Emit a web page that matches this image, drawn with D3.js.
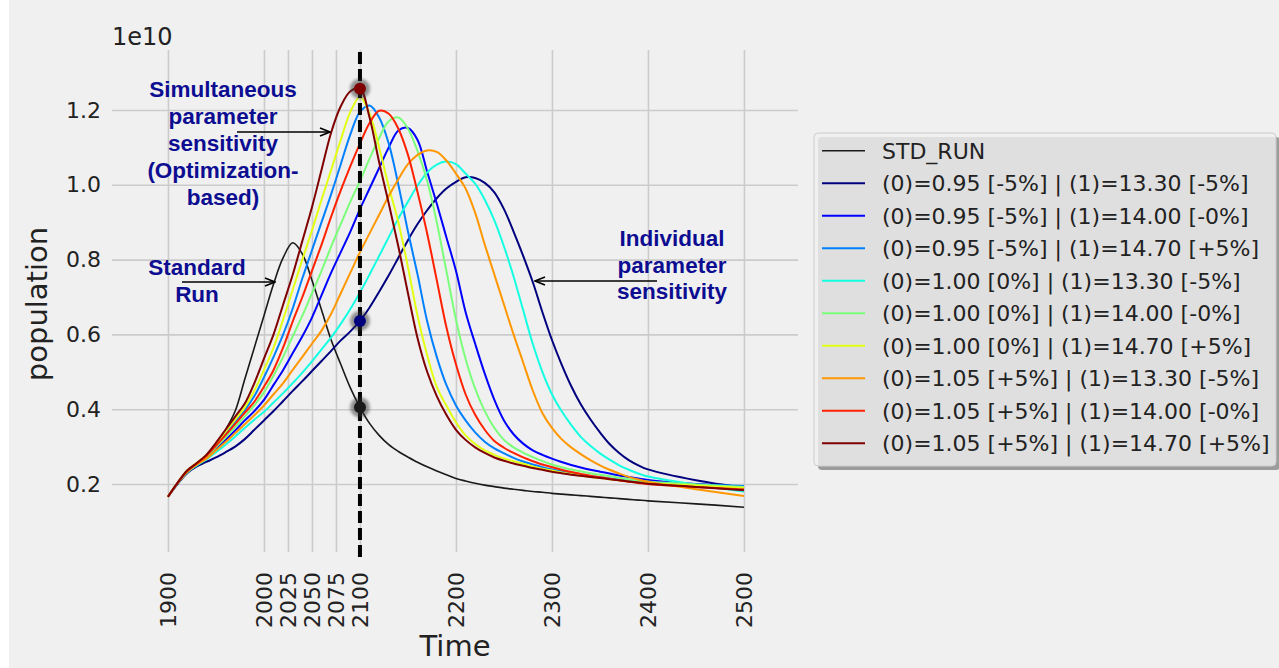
<!DOCTYPE html>
<html><head><meta charset="utf-8">
<script src="https://cdn.jsdelivr.net/npm/d3@7"></script>
<style>body{margin:0;background:#ffffff}svg{display:block}</style>
</head><body><svg id="c" width="1279" height="668"></svg>
<script>
// ---------------- data ----------------
const years = [1900,1910,1920,1930,1940,1950,1960,1970,1980,1990,
  2000,2010,2020,2030,2040,2050,2060,2070,2080,2090,
  2100,2110,2120,2130,2140,2150,2160,2170,2180,2190,
  2200,2210,2220,2230,2240,2250,2260,2270,2280,2290,
  2300,2310,2320,2330,2340,2350,2360,2370,2380,2390,
  2400,2450,2500];
const xTickValues = [1900,2000,2025,2050,2075,2100,2200,2300,2400,2500];
const yTickValues = [0.2,0.4,0.6,0.8,1.0,1.2];
const markYear = 2100;

const stdRun = [.166,.203,.236,.255,.276,.306,.345,.395,.48,.565,
  .65,.735,.805,.845,.815,.745,.665,.585,.52,.457,
  .405,.362,.33,.305,.287,.272,.258,.246,.235,.225,
  .215,.208,.202,.197,.193,.189,.186,.183,.18,.178,
  .175,.173,.171,.169,.167,.165,.163,.161,.159,.157,
  .155,.147,.138];
const run095_1330 = [.166,.2,.229,.247,.259,.271,.285,.3,.32,.345,
  .37,.395,.422,.449,.475,.502,.529,.556,.584,.608,
  .636,.672,.714,.758,.805,.852,.895,.932,.964,.99,
  1.008,1.02,1.018,1.005,.98,.935,.875,.81,.74,.66,
  .585,.52,.462,.413,.373,.338,.307,.283,.264,.25,
  .239,.21,.19];
const run095_1400 = [.166,.202,.233,.253,.271,.294,.318,.343,.37,.395,
  .425,.465,.505,.55,.595,.645,.705,.765,.82,.875,
  .935,.99,1.045,1.1,1.145,1.152,1.12,1.035,.95,.86,
  .77,.66,.575,.495,.425,.37,.333,.308,.29,.278,
  .268,.259,.251,.244,.238,.233,.228,.223,.219,.215,
  .211,.2,.193];
const run095_1470 = [.166,.203,.235,.255,.276,.304,.335,.365,.397,.435,
  .485,.54,.6,.67,.75,.825,.9,.975,1.055,1.135,
  1.195,1.212,1.18,1.11,1.0,.875,.76,.635,.54,.465,
  .41,.37,.338,.313,.295,.282,.27,.26,.252,.245,
  .239,.234,.229,.225,.221,.218,.215,.212,.209,.206,
  .204,.199,.195];
const run100_1330 = [.166,.201,.231,.25,.266,.285,.305,.327,.35,.372,
  .393,.418,.443,.47,.498,.528,.56,.592,.628,.668,
  .712,.76,.81,.86,.91,.955,.998,1.033,1.054,1.062,
  1.055,1.03,1.003,.96,.905,.835,.755,.665,.575,.5,
  .44,.395,.358,.326,.302,.282,.265,.25,.238,.228,
  .22,.198,.18];
const run100_1400 = [.166,.203,.234,.254,.273,.298,.325,.352,.38,.41,
  .445,.49,.54,.595,.65,.71,.77,.835,.895,.955,
  1.01,1.07,1.125,1.17,1.18,1.15,1.09,1.01,.9,.77,
  .64,.535,.455,.395,.35,.318,.298,.284,.272,.261,
  .252,.245,.239,.234,.229,.225,.221,.217,.213,.21,
  .207,.199,.192];
const run100_1470 = [.166,.203,.236,.256,.277,.307,.34,.372,.405,.45,
  .505,.565,.64,.72,.8,.878,.96,1.04,1.12,1.195,
  1.235,1.19,1.1,.995,.9,.78,.65,.545,.46,.41,
  .365,.33,.307,.29,.278,.268,.261,.254,.247,.241,
  .236,.231,.227,.223,.219,.216,.213,.21,.207,.204,
  .202,.196,.19];
const run105_1330 = [.166,.202,.232,.252,.268,.29,.312,.336,.36,.384,
  .41,.44,.47,.505,.54,.575,.61,.655,.71,.765,
  .82,.87,.92,.97,1.015,1.055,1.08,1.092,1.088,1.065,
  1.03,.99,.925,.84,.76,.68,.6,.525,.45,.39,
  .35,.32,.298,.28,.264,.25,.238,.228,.219,.212,
  .206,.186,.168];
const run105_1400 = [.166,.203,.235,.255,.275,.302,.331,.36,.39,.42,
  .46,.505,.565,.635,.7,.77,.84,.915,.985,1.05,
  1.11,1.165,1.198,1.19,1.15,1.08,.98,.87,.745,.62,
  .52,.44,.385,.345,.315,.297,.283,.271,.261,.252,
  .245,.238,.232,.227,.222,.218,.214,.21,.206,.203,
  .2,.192,.185];
const run105_1470 = [.166,.203,.236,.256,.278,.31,.345,.38,.415,.47,
  .535,.6,.68,.76,.85,.94,1.04,1.14,1.21,1.25,
  1.257,1.18,1.06,.95,.835,.71,.59,.5,.435,.385,
  .345,.318,.298,.283,.271,.262,.255,.249,.243,.238,
  .233,.229,.225,.222,.219,.216,.213,.21,.207,.204,
  .201,.192,.183];

const seriesNames = ["STD_RUN",
  "(0)=0.95 [-5%] | (1)=13.30 [-5%]",
  "(0)=0.95 [-5%] | (1)=14.00 [-0%]",
  "(0)=0.95 [-5%] | (1)=14.70 [+5%]",
  "(0)=1.00 [0%] | (1)=13.30 [-5%]",
  "(0)=1.00 [0%] | (1)=14.00 [-0%]",
  "(0)=1.00 [0%] | (1)=14.70 [+5%]",
  "(0)=1.05 [+5%] | (1)=13.30 [-5%]",
  "(0)=1.05 [+5%] | (1)=14.00 [-0%]",
  "(0)=1.05 [+5%] | (1)=14.70 [+5%]"];
const seriesColors = ["#1a1a1a","#00007f","#0000ff","#0080ff","#14ffe2","#7bff7b","#e2ff14","#ff9700","#ff2100","#7f0000"];
const seriesValues = [stdRun,run095_1330,run095_1400,run095_1470,run100_1330,run100_1400,run100_1470,run105_1330,run105_1400,run105_1470];
// series marked on the dashed line (value at 2100)
const markedSeries = [9,1,0];

// ---------------- chart ----------------
const W=1279,H=668;
const L=112,R=798,T=50,B=552;
const svg=d3.select('#c');
const defs=svg.append('defs');
defs.append('filter').attr('id','blur').attr('x','-50%').attr('y','-50%').attr('width','200%').attr('height','200%')
  .append('feGaussianBlur').attr('stdDeviation',1.8);
defs.append('marker').attr('id','arr').attr('viewBox','0 0 12 10').attr('refX',11).attr('refY',5)
  .attr('markerWidth',12).attr('markerHeight',10).attr('markerUnits','userSpaceOnUse').attr('orient','auto')
  .append('path').attr('d','M1,1 L11,5 L1,9').attr('fill','none').attr('stroke','#000').attr('stroke-width',1.6);

svg.append('rect').attr('x',9).attr('y',0).attr('width',W-9).attr('height',H).attr('fill','#f0f0f0');

const x=d3.scaleLinear().domain([1841.7,2556.3]).range([L,R]);
const y=d3.scaleLinear().domain([0.0182,1.3604]).range([B,T]);

const FONT='"DejaVu Sans", sans-serif';
// x axis with gridlines
const xa=svg.append('g').attr('transform',`translate(0,${B})`)
  .call(d3.axisBottom(x).tickValues(xTickValues).tickFormat(d3.format('d')).tickSize(-(B-T)).tickPadding(0));
xa.select('.domain').remove();
xa.selectAll('.tick line').attr('stroke','#cbcbcb').attr('stroke-width',1.6);
xa.selectAll('.tick text').attr('transform','rotate(-90)').attr('x',-20).attr('y',0).attr('dy','0.36em')
  .attr('text-anchor','end').attr('fill','#222').style('font-family',FONT).style('font-size','22px');
// y axis with gridlines
const ya=svg.append('g').attr('transform',`translate(${L},0)`)
  .call(d3.axisLeft(y).tickValues(yTickValues).tickFormat(d3.format('.1f')).tickSize(-(R-L)).tickPadding(11));
ya.select('.domain').remove();
ya.selectAll('.tick line').attr('stroke','#cbcbcb').attr('stroke-width',1.6);
ya.selectAll('.tick text').attr('fill','#222').style('font-family',FONT).style('font-size','22px');

svg.append('text').attr('x',L).attr('y',45).text('1e10').attr('fill','#222').style('font-family',FONT).style('font-size','24px');
svg.append('text').attr('transform','translate(47,304) rotate(-90)').attr('text-anchor','middle').text('population')
  .attr('fill','#222').style('font-family',FONT).style('font-size','29px');
svg.append('text').attr('x',455).attr('y',656).attr('text-anchor','middle').text('Time')
  .attr('fill','#222').style('font-family',FONT).style('font-size','29px');

// lines
const line=d3.line().x((d,i)=>x(years[i])).y(d=>y(d)).curve(d3.curveCatmullRom.alpha(0.5));
const lg=svg.append('g');
seriesValues.forEach((vals,k)=>{
  lg.append('path').attr('d',line(vals)).attr('fill','none').attr('stroke',seriesColors[k])
    .attr('stroke-width',k===0?1.6:2);
});

// dashed vertical line
svg.append('line').attr('x1',x(markYear)).attr('x2',x(markYear)).attr('y1',T+2).attr('y2',B+8)
  .attr('stroke','#000').attr('stroke-width',4).attr('stroke-dasharray','12,5');

// markers
const idx=years.indexOf(markYear);
markedSeries.forEach(k=>{
  const cy=y(seriesValues[k][idx]);
  svg.append('circle').attr('cx',x(markYear)).attr('cy',cy).attr('r',10).attr('fill','#333').attr('opacity',0.5).attr('filter','url(#blur)');
  svg.append('circle').attr('cx',x(markYear)).attr('cy',cy).attr('r',6).attr('fill',seriesColors[k]);
});

// annotations
const AF='"Liberation Sans", Arial, sans-serif';
function block(lines,cx,y0,dy){
  lines.forEach((t,i)=>svg.append('text').attr('x',cx).attr('y',y0+i*dy).attr('text-anchor','middle').text(t)
    .attr('fill','#0d0d92').style('font-family',AF).style('font-weight','bold').style('font-size','22.5px'));
}
block(['Simultaneous','parameter','sensitivity','(Optimization-','based)'],223,97,27);
block(['Standard','Run'],197,275,27);
block(['Individual','parameter','sensitivity'],672,246,26.7);
function arrow(x1,y1,x2,y2){
  svg.append('line').attr('x1',x1).attr('y1',y1).attr('x2',x2).attr('y2',y2).attr('stroke','#000').attr('stroke-width',1.6).attr('marker-end','url(#arr)');
}
arrow(237,132,330,132);
arrow(182,282,275,282);
arrow(657,281,535,281);

// legend
const lx=814, ly=133, lw=462, lh=333;
svg.append('rect').attr('x',lx+4).attr('y',ly+4).attr('width',lw).attr('height',lh).attr('rx',4).attr('fill','rgba(72,72,72,0.5)');
svg.append('rect').attr('x',lx).attr('y',ly).attr('width',lw).attr('height',lh).attr('rx',4).attr('fill','rgba(240,240,240,0.8)').attr('stroke','#cccccc').attr('stroke-width',1);
seriesNames.forEach((n,k)=>{
  const yy=150.7+k*32.5;
  svg.append('line').attr('x1',822).attr('x2',865).attr('y1',yy).attr('y2',yy).attr('stroke',seriesColors[k]).attr('stroke-width',k===0?1.6:2);
  svg.append('text').attr('x',882).attr('y',yy).attr('dy','0.36em').text(n).attr('fill','#222').style('font-family',FONT).style('font-size','22px');
});
</script></body></html>
